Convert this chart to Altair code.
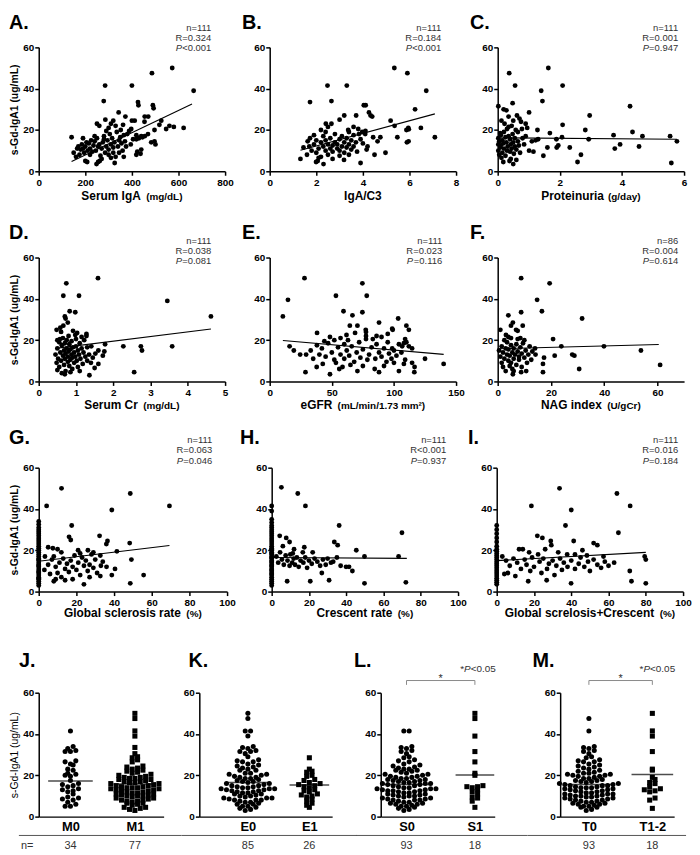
import altair as alt
import pandas as pd

FONT = "Liberation Sans"
INK = "#000000"
GREY = "#333333"
YLAB = "s-Gd-IgA1 (ug/mL)"

# ---------------- data ----------------
A_pts = [(573,50),(486,47.5),(285,41.5),(400,41.5),(665,39),(279,34),(426,33.5),(428,32),(490,32),(493,30.5),
(343,28.5),(372,26.5),(455,26.5),(470,26.5),(286,25),(412,24.5),(400,24.5),(454,24),(526,24.5),(250,23),
(310,23),(547,20.5),(561,22),(580,21.5),(622,21),(497,20),(518,22.5),(397,20.5),(388,19.5),(352,20),
(362,22.5),(330,22),(290,19.5),(300,21),(260,22),(320,24.5),(469,18),(440,17),(455,17),(419,17.5),
(419,15.5),(483,14),(501,13),(497,14.5),(405,15.5),(430,16),(445,16.5),(423,9.5),(440,10.5),(419,8),
(437,8.5),(326,4),(255,4.5),(248,3.5),(262,5),(200,5),(208,4.5),(141,16.5),(150,9),(160,7),
(165,11),(170,12),(175,8),(180,10.5),(185,13),(190,11),(195,9),(200,12),(205,14),(210,10),
(215,13.5),(220,11),(225,15),(230,9.5),(235,12.5),(240,14.5),(245,10),(250,16),(255,12),(260,13),
(265,7.5),(270,11),(275,14),(280,17),(285,9),(290,12),(295,15),(300,10.5),(305,18),(310,13),
(315,16),(320,11.5),(325,14),(335,19),(340,12),(345,15),(350,16.5),(355,13.5),(360,10),(365,17.5),
(370,14.5),(375,12),(380,18),(300,8),(310,6.5),(270,6),(320,9),(330,7),(280,15.5),(240,17),
(220,8),(190,16),(345,9),(365,7),(395,13)]

B_pts = [(5.35,50),(5.91,47.5),(2.48,41.5),(3.31,41.5),(6.72,39),(1.73,33.5),(2.65,34),(4.04,32),(4.12,32),(6.24,30),
(4.26,28.5),(4.33,27),(3.2,27),(3.71,27),(4.4,26.5),(3.0,25),(2.41,23),(2.65,23),(5.19,24.5),(5.36,22),
(5.95,21),(5.87,20),(5.97,20.3),(6.49,21),(3.37,20),(3.97,19),(4.11,19.5),(3.83,18),(4.44,16.5),(4.75,16.5),
(5.48,16.5),(7.09,16.5),(5.89,14),(5.96,14.5),(4.63,14.5),(4.97,9),(4.5,8),(3.9,4),(3.19,5.5),(4.16,10.5),
(3.75,9.5),(1.32,6),(1.99,4.5),(2.06,5),(2.31,3.5),(1.45,11.5),(1.73,16),(1.63,14.5),
(1.6,8),(1.7,12),(1.8,10),(1.9,13),(2.0,15),(2.0,9),(2.1,11),(2.2,14),(2.2,7),(2.3,12),
(2.3,17),(2.4,10),(2.4,15),(2.5,13),(2.5,8),(2.6,11),(2.6,16),(2.7,12.5),(2.7,9.5),(2.8,14),
(2.8,18),(2.9,11),(2.9,13),(3.0,15.5),(3.0,10),(3.1,12),(3.1,17),(3.2,14),(3.2,9),(3.3,11.5),
(3.3,16),(3.4,13),(3.4,19),(3.5,15),(3.5,10.5),(3.6,12),(3.6,17.5),(3.7,14),(3.8,20.5),(3.9,15.5),
(4.0,13.5),(4.1,18),(4.2,12),(2.2,20),(2.5,21.5),(1.9,17.5),(2.1,6.5),(2.7,6),(3.0,7.5),(3.4,8),
(2.4,19),(3.6,21.5)]

C_pts = [(1.63,50),(0.37,47.5),(0.56,41.5),(2.09,41.5),(1.40,39),(1.44,34),(0.48,33),(0.02,31.5),(4.26,31.5),(0.19,30),
(1.01,28.5),(2.96,27),(2.09,22.5),(1.28,20),(2.82,20),(4.34,19),(1.68,18.5),(3.73,17.5),(4.66,17),(5.55,17),
(2.93,15.5),(2.07,16.5),(5.77,14.5),(1.89,15.5),(1.22,15),(1.6,11.5),(1.9,11.5),(1.95,12.5),(2.32,11.5),(3.94,13),
(3.77,11),(4.55,12),(1.47,7.5),(2.68,8),(2.57,4.5),(5.59,4),(1.01,10),
(0.9,23),(0.95,21),(0.85,13),(1.1,14.5),(1.3,15.5),(1.15,9.5),(0.75,24),(0.7,25.5),(0.65,19),(0.8,16),
(0.02,16),(0.02,13),(0.02,10),(0.05,14.5),(0.05,8),(0.08,11.5),(0.1,17.5),(0.1,12.5),(0.12,6.5),(0.15,15),
(0.15,9),(0.18,13.5),(0.2,19),(0.2,11),(0.22,23),(0.25,16.5),(0.25,7.5),(0.28,14),(0.3,20.5),(0.3,10),
(0.32,12),(0.35,26.5),(0.35,17),(0.38,5),(0.4,15.5),(0.4,9.5),(0.42,13),(0.45,22),(0.45,11),(0.48,18),
(0.5,3.5),(0.5,14),(0.52,8.5),(0.55,16),(0.55,12),(0.58,20),(0.6,10.5),(0.6,5.5),(0.62,27),(0.65,14.5),
(0.12,24.5),(0.28,29.5),(0.42,6),(0.08,18.5),(0.18,4.5),(0.5,24.5),(0.35,21.5),(0.68,12.5),(0.72,9),(0.78,20.5),
(0.9,17)]

D_pts = [(1.59,50),(0.74,47.5),(0.66,41.5),(1.08,41.5),(3.45,39),(0.83,34),(0.98,33.5),(4.62,31.5),(0.7,31.5),(0.72,30.5),
(0.66,27),(0.78,28.5),(0.48,25),(0.57,20.5),(1.28,23),(1.28,22),(0.98,22.5),(1.03,23.5),(1.41,17),(1.78,18),
(2.27,17),(2.74,17),(3.58,17),(2.77,15),(2.56,4.5),(1.36,3),(1.5,6.5),(1.6,8.5),(1.72,12.5),(1.76,14.5),
(1.6,15),
(0.45,13),(0.48,9),(0.5,16),(0.5,5.5),(0.52,11),(0.55,19),(0.55,7),(0.58,14),(0.6,24),(0.6,10),
(0.62,17.5),(0.62,4),(0.65,12.5),(0.65,21),(0.68,15),(0.68,8),(0.7,18.5),(0.7,11),(0.72,13.5),(0.72,5),
(0.75,20),(0.75,16),(0.78,9.5),(0.78,12),(0.8,14.5),(0.8,22),(0.82,7.5),(0.82,18),(0.85,10.5),(0.85,15.5),
(0.88,13),(0.88,19.5),(0.9,6),(0.9,11.5),(0.92,16.5),(0.95,14),(0.95,9),(0.98,12),(1.0,17),(1.0,20.5),
(1.02,10),(1.05,15),(1.05,7),(1.08,13),(1.1,18.5),(1.12,11),(1.15,16),(1.18,8.5),(1.2,14),(1.22,20),
(1.25,12),(1.3,10),(1.3,16.5),(1.35,13),(1.4,9),(0.58,26),(0.92,24.5),(1.15,21.5),(0.7,3.5),(0.85,4.5),
(1.1,5),(1.45,11.5),(1.52,13.5),(0.5,20)]

E_pts = [(28,50),(74.6,47.5),(14.7,39.5),(10.6,31.5),(53.3,41.5),(78.1,41.5),(59.4,34),(74.6,33.5),(66.6,32),(103.4,30.5),
(88,28.5),(64.5,27),(70.6,27),(110,27),(98.6,25.5),(99,25),(112,25),(77.3,25),(77.5,24),(38.1,23.5),
(48.5,21.5),(57,21),(61.8,22.5),(68.7,23.5),(77.5,22),(77.5,20.5),(90,21.5),(83,20.5),(109,20.5),(110,19),
(108,18.5),(112,17),(16,17),(19.4,15),(24.5,13),(29.3,13),(28.8,4.5),(48.5,3.5),(70.6,5),(84.5,6),
(88,4.5),(104,5),(116.4,4.5),(116.6,7),(125,11),(140,8.5),(37.8,7),(42.7,8.5),(53.3,9),(58.6,7),
(78.6,10.5),(109,10.5),(114.6,9),(98.6,16),(106.6,17),(114.6,16),
(33,15),(35,11),(38,17.5),(40,13),(42,16),(45,12),(47,18.5),(50,14),(52,10.5),(55,16.5),
(57,13),(60,18),(60,11),(62,15),(64,12.5),(66,17),(68,9.5),(70,14),(72,19),(73,11.5),
(75,15.5),(80,13),(82,16.5),(85,11),(86,18),(88,14),(90,12),(92,16),(94,9.5),(95,19),
(96,13.5),(98,11),(100,15),(102,12.5),(104,18),(106,14),(108,8.5),(44,19.5),(52,20),(63,20),
(86,22),(95,23),(56,6),(65,8),(92,7.5),(100,9),(75,7.5)]

F_pts = [(8.8,50),(19.5,47.5),(14.8,39.5),(16.6,34),(8.8,33.5),(31.7,30.5),(4,32),(5,27),(5.7,28.5),(9.4,27),
(1,25),(6.9,25),(7.5,24.5),(3.1,22.5),(4,21.5),(5,21),(20.8,20.5),(7.5,20.5),(8.5,21),(10,20),
(39.9,17),(23.9,17),(53.8,15),(61,8),(30.6,6),(28,13),(28.8,12.5),(21.4,12.5),(17.4,11.5),(17,8.5),
(17,4.5),(14.2,13),(12.6,10.5),(10.7,5),(8.8,4.5),(5.7,3.5),
(0.5,15),(1,12),(1.5,17),(1.5,9),(2,14),(2,7),(2.5,11),(3,16),(3,5),(3.5,13),
(3.5,19),(4,10),(4,15.5),(4.5,7.5),(4.5,12.5),(5,17.5),(5,9),(5.5,14),(5.5,6),(6,11),
(6,16),(6.5,13),(7,18),(7,8),(7.5,14.5),(8,10.5),(8,12),(8.5,16.5),(9,13.5),(9,7),
(9.5,18.5),(10,11.5),(10.5,15),(11,9),(11.5,13),(12,17),(13,14.5),(14,16),(2.5,20),(6,5)]

G_pts = [(4.2,41.5),(12.1,50),(38.8,39.5),(48.6,47.5),(69.4,41.5),(17.5,32),(32.3,27),(36.5,24.5),(35.9,23),(16.1,26.5),
(17,25),(48.3,23.5),(5,21.5),(7.5,21),(10,20.5),(8,17),(20.9,20),(26.1,20),(29,19),(41.5,19.5),
(3.3,17),(32.7,17.5),(49.2,15.5),(55.7,8),(48.6,4),(38.8,8),(40.5,11),(32.7,7.5),(24,3.5),
(3,10.5),(5,13),(6,8.5),(7,15.5),(8,5),(9,12),(10,9),(11,14),(12,7),(13,16),
(14,11),(15,13.5),(16,9.5),(17,15),(18,12),(19,17.5),(20,10.5),(21,14),(22,8),(23,16.5),
(24,12.5),(25,15),(26,10),(27,13),(28,18),(29,11.5),(30,15.5),(31,9),(33,12.5),(34,14.5),
(36,12),(12,19),(22,18.5),(9,6),(18,6),(27,7),(14,5.5),
(0,3),(0,4),(0,5),(0,6),(0,7),(0,8),(0,9),(0,10),(0,11),(0,12),
(0,13),(0,14),(0,15),(0,16),(0,17),(0,18),(0,19),(0,20),(0,21),(0,22),
(0,23),(0,24),(0,25),(0,26),(0,27),(0,28),(0,29),(0,30),(0,31),(0,32.5),
(0,34),(0,12.5),(0,9.5),(0,15.5),(0,6.5)]

H_pts = [(5.2,50.5),(14,47.5),(18.1,41.5),(0,41.5),(0,39),(4.3,27),(7.8,26),(9.6,24),(16.7,19),(17.5,21.5),
(11.8,16),(11.3,18.5),(9.6,12.5),(8.3,5),(20.7,5),(30.8,5.5),(26.9,9),(35.4,22.5),(33.6,24),(36.2,32),
(39.9,12),(31.8,14),(69.9,28.5),(45.4,20),(49.8,17),(68.1,17),(49.8,4),(72,4.5),(41.5,12),(43.3,10),
(2.5,17),(3.5,14),(4.5,19),(5.5,15.5),(6.5,13),(7.5,17.5),(8.5,15),(10,18),(11,14),(12.5,13),
(13.5,16.5),(14.5,12),(15.5,15),(17,14),(18,16.5),(19,11.5),(20,15),(21.5,13.5),(23,16),(24.5,14.5),
(26,12.5),(27.5,15.5),(29,13),(30,16),(33,14.5),(35,16.5),(37,12.5),(6,22),(12,20.5),(22,19),
(0,3),(0,4),(0,5),(0,6),(0,7),(0,8),(0,9),(0,10),(0,11),(0,12),
(0,13),(0,14),(0,15),(0,16),(0,17),(0,18),(0,19),(0,20),(0,21),(0,22),
(0,23),(0,24),(0,25),(0,26),(0,27),(0,28),(0,29),(0,30),(0,31),(0,32),
(0,33.5),(0,35),(0,12.5),(0,14.5),(0,16.5),(0,10.5),(0,8.5),(0,18.5),(0,20.5)]

I_pts = [(18.6,41.5),(33.7,50),(40,39.5),(64.5,47.5),(71.6,41.5),(65.3,28.5),(36.9,32),(21.8,27),(24.5,26),(29.3,22.5),
(29,24.5),(41.3,24.5),(52,23.5),(54,22.5),(12,20.5),(14,20.5),(17.4,19),(22.2,18),(37.8,18),(42,18),
(48.4,17.5),(57.3,17),(63,14),(71.4,10),(79.4,17),(80,15.5),(72.3,5),(80,4),(39.9,4),(26.8,5.5),
(16.9,5),(4.1,8.5),(6,9),
(3,17),(5,15),(7,12.5),(9,16),(10,7.5),(11,14),(13,11),(15,15.5),(16,13),(18,10),
(19,16.5),(20,12),(23,14.5),(24,9),(25,16),(27,11),(28,13.5),(30,15),(31,8),(32,12.5),
(34,16),(35,10.5),(36,14),(38,12),(40,15),(42,11),(44,13.5),(45,16.5),(47,12),(49,14.5),
(50,10),(52,15.5),(54,13),(56,11.5),(58,14.5),(60,12.5),(33,19),(46,20),(26,20.5),
(0,3.5),(0,4.5),(0,5.5),(0,6.5),(0,7.5),(0,8.5),(0,9.5),(0,10.5),(0,11.5),(0,12.5),
(0,13.5),(0,14.5),(0,15.5),(0,16.5),(0,17.5),(0,18.5),(0,19.5),(0,20.5),(0,22),(0,24),
(0,26),(0,28),(0,30),(0,32)]

# fitted lines (end points)
A_line = ([141, 658], [4.7, 32.6])
B_line = ([1.32, 7.09], [10.2, 27.8])
C_line = ([0.02, 5.77], [16.2, 15.5])
D_line = ([0.45, 4.62], [16.0, 25.4])
E_line = ([10.6, 140], [19.8, 13.1])
F_line = ([0.5, 60.5], [15.8, 17.9])
G_line = ([0, 69.4], [14.7, 22.3])
H_line = ([0, 72.5], [16.5, 16.1])
I_line = ([0, 80], [15.0, 19.0])

STATS = {
    "A": ("n=111", "R=0.324", "<0.001"), "B": ("n=111", "R=0.184", "<0.001"),
    "C": ("n=111", "R=0.001", "=0.947"), "D": ("n=111", "R=0.038", "=0.081"),
    "E": ("n=111", "R=0.023", "=0.116"), "F": ("n=86", "R=0.004", "=0.614"),
    "G": ("n=111", "R=0.063", "=0.046"), "H": ("n=111", "R<0.001", "=0.937"),
    "I": ("n=111", "R=0.016", "=0.184"),
}
XTITLES = {
    "A": ("Serum IgA", "(mg/dL)"), "B": ("IgA/C3", ""), "C": ("Proteinuria", "(g/day)"),
    "D": ("Serum Cr", "(mg/dL)"), "E": ("eGFR", "(mL/min/1.73 mm\u00b2)"), "F": ("NAG index", "(U/gCr)"),
    "G": ("Global sclerosis rate", "(%)"), "H": ("Crescent rate", "(%)"), "I": ("Global screlosis+Crescent", "(%)"),
}
XDOMAINS = {"A": [0, 800], "B": [0, 8], "C": [0, 6], "D": [0, 5], "E": [0, 150], "F": [0, 70],
            "G": [0, 100], "H": [0, 100], "I": [0, 100]}
XTICKS = {"A": [0, 200, 400, 600, 800], "B": [0, 2, 4, 6, 8], "C": [0, 2, 4, 6], "D": [0, 1, 2, 3, 4, 5],
          "E": [0, 50, 100, 150], "F": [0, 20, 40, 60], "G": [0, 20, 40, 60, 80, 100],
          "H": [0, 20, 40, 60, 80, 100], "I": [0, 20, 40, 60, 80, 100]}

# dot plots (all 111 patients, and the smaller group of each split)
ALL_VALUES = [50, 47.5, 41.5, 41.5, 39, 34, 33.5, 33, 32, 31.5,
              31.5, 30.5, 29, 28.5, 27.5, 27, 26.5, 26.5, 25.5, 25,
              24.5, 24, 23.5, 23, 23, 22.5, 22.5, 22, 21.5, 21,
              21, 20.5, 20.5, 20, 20, 19.5, 19.5, 19, 19, 18.5,
              18.5, 18, 18, 17.5, 17.5, 17, 17, 16.5, 16.5, 16,
              16, 16, 15.5, 15.5, 15, 15, 15, 14.5, 14.5, 14.5,
              14, 14, 14, 13.5, 13.5, 13.5, 13, 13, 13, 12.5,
              12.5, 12.5, 12, 12, 12, 11.5, 11.5, 11, 11, 11,
              10.5, 10.5, 10, 10, 10, 9.5, 9.5, 9, 9, 9,
              8.5, 8.5, 8, 8, 8, 7.5, 7.5, 7, 7, 6.5,
              6.5, 6, 6, 5.5, 5, 5, 4.5, 4.5, 4, 3.5, 3]
M0_vals = [41.5, 34, 33, 32, 31.5, 31.5, 27, 26.5, 25.5, 25, 23, 22.5, 21, 20.5, 20, 19.5, 17.5,
           16, 15.5, 15, 14.5, 13.5, 13, 12.5, 12, 11, 9.5, 9, 8.5, 8, 7, 6, 5, 5]
E1_vals = [28.5, 23, 22, 21.5, 20, 19.5, 18, 17.5, 16.5, 16, 15.5, 15, 14.5, 14, 13, 12.5, 12, 11,
           10.5, 10, 9.5, 8.5, 7.5, 6.5, 5.5, 4.5]
S1_vals = [50, 47.5, 39, 31.5, 26.5, 21, 20, 15, 14.5, 14.5, 14, 13, 12, 11, 9.5, 9, 7.5, 4.5]
T12_vals = [50, 41.5, 39, 31.5, 23, 22.5, 19, 18, 16.5, 16, 14.5, 13.5, 13, 12.5, 12, 9, 8, 4]
GROUP_MEANS = {"M0": 17.2, "M1": 15.8, "E0": 16.5, "E1": 15.3, "S0": 15.5, "S1": 20.2, "T0": 15.5, "T1-2": 20.4}
GROUP_N = {"M0": 34, "M1": 77, "E0": 85, "E1": 26, "S0": 93, "S1": 18, "T0": 93, "T1-2": 18}


def complement(all_vals, sub):
    rest = list(all_vals)
    for v in sub:
        j = min(range(len(rest)), key=lambda i: abs(rest[i] - v))
        rest.pop(j)
    return rest


# ---------------- text metrics (Arial / Liberation Sans) ----------------
REG = {' ': 278, '(': 333, ')': 333, '*': 389, '+': 584, '-': 333, '.': 278, '/': 278, '<': 584, '=': 584,
       '%': 889, 'P': 667, 'R': 722, 'n': 556}
BOLD = {' ': 278, '(': 333, ')': 333, '+': 584, '-': 333, '.': 278, '/': 278, '%': 889, '\u00b2': 333,
        'a': 556, 'b': 611, 'c': 556, 'd': 611, 'e': 556, 'f': 333, 'g': 611, 'h': 611, 'i': 278, 'l': 278,
        'm': 889, 'n': 611, 'o': 611, 'p': 611, 'r': 389, 's': 556, 't': 333, 'u': 611, 'x': 556, 'y': 556,
        'A': 722, 'C': 722, 'D': 722, 'E': 667, 'F': 611, 'G': 778, 'I': 278, 'L': 611, 'M': 833, 'N': 722,
        'R': 722, 'S': 667, 'U': 722}


def tw(s, size, bold=False):
    table = BOLD if bold else REG
    return sum(table.get(c, 556) for c in s) / 1000.0 * size


ONE = pd.DataFrame({"k": [0]})


def txt(s, x, y, size, bold=False, italic=False, align="left", color=INK):
    return alt.Chart(ONE).mark_text(
        text=s, align=align, baseline="alphabetic", font=FONT, fontSize=size, color=color,
        fontWeight="bold" if bold else "normal", fontStyle="italic" if italic else "normal",
    ).encode(x=alt.value(x), y=alt.value(y))


def spacer(w, h):
    return alt.Chart(ONE).mark_rule(opacity=0).encode(
        x=alt.value(0), y=alt.value(0), y2=alt.value(h)).properties(width=w, height=h)


def yaxis(title, weight="bold"):
    return alt.Axis(values=[0, 20, 40, 60], title=title, titleFontWeight=weight, titlePadding=3)


def scatter_panel(key, pts, line, W, H, letter_pos, stat_dx, stat_dy, xt_dy, ytitle):
    df = pd.DataFrame({"x": [p[0] for p in pts], "y": [p[1] for p in pts]})
    ldf = pd.DataFrame({"x": line[0], "y": line[1]})
    xenc = alt.X("x:Q", scale=alt.Scale(domain=XDOMAINS[key], nice=False, zero=False),
                 axis=alt.Axis(values=XTICKS[key], title=""))
    yenc = alt.Y("y:Q", scale=alt.Scale(domain=[0, 60], nice=False), axis=yaxis(ytitle))
    layers = [
        alt.Chart(df).mark_circle(size=24, color=INK, opacity=1).encode(x=xenc, y=yenc),
        alt.Chart(ldf).mark_line(color=INK, strokeWidth=1.1).encode(x=xenc, y=yenc),
        txt(key + ".", letter_pos[0], letter_pos[1], 20, bold=True),
    ]
    n_t, r_t, p_t = STATS[key]
    R = W + stat_dx
    fs = 9.5
    layers += [
        txt(n_t, R, stat_dy, fs, align="right", color=GREY),
        txt(r_t, R, stat_dy + 10.5, fs, align="right", color=GREY),
        txt(p_t, R, stat_dy + 21, fs, align="right", color=GREY),
        txt("P", R - tw(p_t, fs), stat_dy + 21, fs, italic=True, align="right", color=GREY),
    ]
    main, unit = XTITLES[key]
    if unit:
        total = tw(main, 12, True) + tw(" ", 12, True) + tw(unit, 10, True) + 2
        x0 = W / 2 - total / 2
        layers += [txt(main, x0, H + xt_dy, 12, bold=True),
                   txt(unit, x0 + tw(main, 12, True) + tw(" ", 12, True) + 2, H + xt_dy, 10, bold=True)]
    else:
        layers += [txt(main, W / 2, H + xt_dy, 12, bold=True, align="center")]
    return alt.layer(*layers).properties(width=W, height=H)


def swarm(vals, s_px, spacing=5.4, binw=2.3):
    bins = {}
    for v in sorted(vals):
        bins.setdefault(int(v // binw), []).append(v)
    xs, ys = [], []
    for vs in bins.values():
        n = len(vs)
        order = sorted(range(n), key=lambda j: abs(j - (n - 1) / 2))
        for rank, v in enumerate(vs):
            j = order[rank]
            xs.append((j - (n - 1) / 2) * spacing / s_px)
            ys.append(v)
    return xs, ys


def dot_panel(cats, vals0, vals1, W, H, c0, c1, letter, letter_dx, mean_len, ytitle,
              rule_ext, bracket=False, n_label=False):
    s = c1 - c0
    lo = -c0 / s
    hi = lo + W / s
    xenc = alt.X("x:Q", scale=alt.Scale(domain=[lo, hi], nice=False, zero=False),
                 axis=alt.Axis(values=[0, 1], ticks=False, labelFontSize=13, labelPadding=4, title="",
                               labelExpr="datum.value == 0 ? '%s' : '%s'" % (cats[0], cats[1])))
    yenc = alt.Y("y:Q", scale=alt.Scale(domain=[0, 60], nice=False),
                 axis=yaxis(ytitle, "normal"))
    x0, y0 = swarm(vals0, s)
    x1, y1 = swarm(vals1, s)
    d0 = pd.DataFrame({"x": x0, "y": y0})
    d1 = pd.DataFrame({"x": [1 + v for v in x1], "y": y1})
    mdf0 = pd.DataFrame({"x": [0], "y": [GROUP_MEANS[cats[0]]]})
    mdf1 = pd.DataFrame({"x": [1], "y": [GROUP_MEANS[cats[1]]]})
    cdf = pd.DataFrame({"x": [0, 1], "t": [str(GROUP_N[cats[0]]), str(GROUP_N[cats[1]])]})
    layers = [
        alt.Chart(d0).mark_circle(size=26, color=INK, opacity=1).encode(x=xenc, y=yenc),
        alt.Chart(d1).mark_point(shape="square", filled=True, size=26, color=INK, opacity=1).encode(x=xenc, y=yenc),
        alt.Chart(mdf0).mark_tick(orient="horizontal", size=mean_len[0], thickness=1.5, color=INK).encode(x=xenc, y=yenc),
        alt.Chart(mdf1).mark_tick(orient="horizontal", size=mean_len[1], thickness=1.5, color=INK).encode(x=xenc, y=yenc),
        alt.Chart(cdf).mark_text(font=FONT, fontSize=11, color=GREY, baseline="alphabetic").encode(
            x=xenc, y=alt.value(H + 33), text="t:N"),
        alt.Chart(ONE).mark_rule(color="#555555", strokeWidth=1).encode(
            x=alt.value(rule_ext[0]), x2=alt.value(W + rule_ext[1]), y=alt.value(H + 19)),
        txt(letter + ".", letter_dx, -26, 20, bold=True),
    ]
    if n_label:
        layers.append(txt("n=", -18, H + 33, 11, color=GREY))
    if bracket:
        by = 65.9
        hdf = pd.DataFrame({"x": [0], "x2": [1], "y": [by]})
        vdf = pd.DataFrame({"x": [0, 1], "y": [by, by], "y2": [63.8, 63.8]})
        sdf = pd.DataFrame({"x": [0.5], "y": [by]})
        layers += [
            alt.Chart(hdf).mark_rule(color="#8a8a8a", strokeWidth=1).encode(x=xenc, x2="x2:Q", y=yenc),
            alt.Chart(vdf).mark_rule(color="#8a8a8a", strokeWidth=1).encode(x=xenc, y=yenc, y2="y2:Q"),
            alt.Chart(sdf).mark_text(text="*", font=FONT, fontSize=11, color=GREY, baseline="alphabetic", dy=1).encode(x=xenc, y=yenc),
        ]
        R = W + 1
        fs = 10
        layers += [
            txt("<0.05", R, -21, fs, align="right", color=GREY),
            txt("P", R - tw("<0.05", fs), -21, fs, italic=True, align="right", color=GREY),
            txt("*", R - tw("<0.05", fs) - tw("P", fs), -21, fs, align="right", color=GREY),
        ]
    return alt.layer(*layers).properties(width=W, height=H)


W = 188
H = 125

pA = scatter_panel("A", A_pts, A_line, W, H, (-30, -19), -14, -17, 29, YLAB)
pB = scatter_panel("B", B_pts, B_line, W, H, (-28, -19), -15, -17, 29, "")
pC = scatter_panel("C", C_pts, C_line, W, H, (-28, -19), -6, -17, 29, "")
pD = scatter_panel("D", D_pts, D_line, W, H, (-30, -19), -14, -14, 28, YLAB)
pE = scatter_panel("E", E_pts, E_line, W, H, (-28, -19), -14, -14, 28, "")
pF = scatter_panel("F", F_pts, F_line, W, H, (-28, -19), -6, -14, 28, "")
pG = scatter_panel("G", G_pts, G_line, 190, H, (-30, -24), -15, -25, 26, YLAB)
pH = scatter_panel("H", H_pts, H_line, W, H, (-32, -24), -12, -25, 26, "")
pI = scatter_panel("I", I_pts, I_line, W, H, (-29, -24), -5, -25, 26, "")

M1_vals = complement(ALL_VALUES, M0_vals)
E0_vals = complement(ALL_VALUES, E1_vals)
S0_vals = complement(ALL_VALUES, S1_vals)
T0_vals = complement(ALL_VALUES, T12_vals)

pJ = dot_panel(["M0", "M1"], M0_vals, M1_vals, 126, H, 32, 97, "J", -20, (45, 43), YLAB,
               (-20, 18), n_label=True)
pK = dot_panel(["E0", "E1"], E0_vals, E1_vals, 134, H, 49, 111, "K", -11, (42, 40), "",
               (-18, 25))
pL = dot_panel(["S0", "S1"], S0_vals, S1_vals, 115, H, 26, 95, "L", -27, (51, 39), "",
               (-25, 33), bracket=True)
pM = dot_panel(["T0", "T1-2"], T0_vals, T12_vals, 115, H, 29, 93, "M", -28, (47, 42), "",
               (-33, 12), bracket=True)

# each row: panels with gap cells between them, placed by their plot areas (flush)
SP = 10
row1 = alt.hconcat(pA, spacer(45 - 2 * SP, H), pB, spacer(42 - 2 * SP, H), pC, spacing=SP, bounds="flush")
row2 = alt.hconcat(pD, spacer(45 - 2 * SP, H), pE, spacer(42 - 2 * SP, H), pF, spacing=SP, bounds="flush")
row3 = alt.hconcat(pG, spacer(45 - 2 * SP, H), pH, spacer(39 - 2 * SP, H), pI, spacing=SP, bounds="flush")
row4 = alt.hconcat(pJ, spacer(36 - 2 * SP, H), pK, spacer(49 - 2 * SP, H), pL, spacer(66 - 2 * SP, H), pM,
                   spacing=SP, bounds="flush")

# with flush bounds a nested row counts as zero height, so the spacing is the step
# from one row's plot top to the next row's plot top
top = alt.vconcat(row1, row2, row3, spacing=H + 87, bounds="flush")
chart = alt.vconcat(top, row4, spacing=2 * (H + 87) + H + 102, bounds="flush",
                    padding={"left": 0, "top": 0, "right": 0, "bottom": 0}).configure(
    font=FONT
).configure_axis(
    grid=False, domainColor=INK, domainWidth=1.5, tickColor=INK, tickWidth=1.5, tickSize=4,
    labelFont=FONT, labelFontWeight="bold", labelFontSize=10, labelColor=INK, labelPadding=1,
    labelFlush=False, labelOverlap=False,
    titleFont=FONT, titleFontWeight="bold", titleFontSize=10.5, titleColor=INK,
).configure_axisX(labelPadding=2).configure_view(stroke="transparent")

chart.save("out.html", embed_options={"renderer": "svg", "actions": False})
